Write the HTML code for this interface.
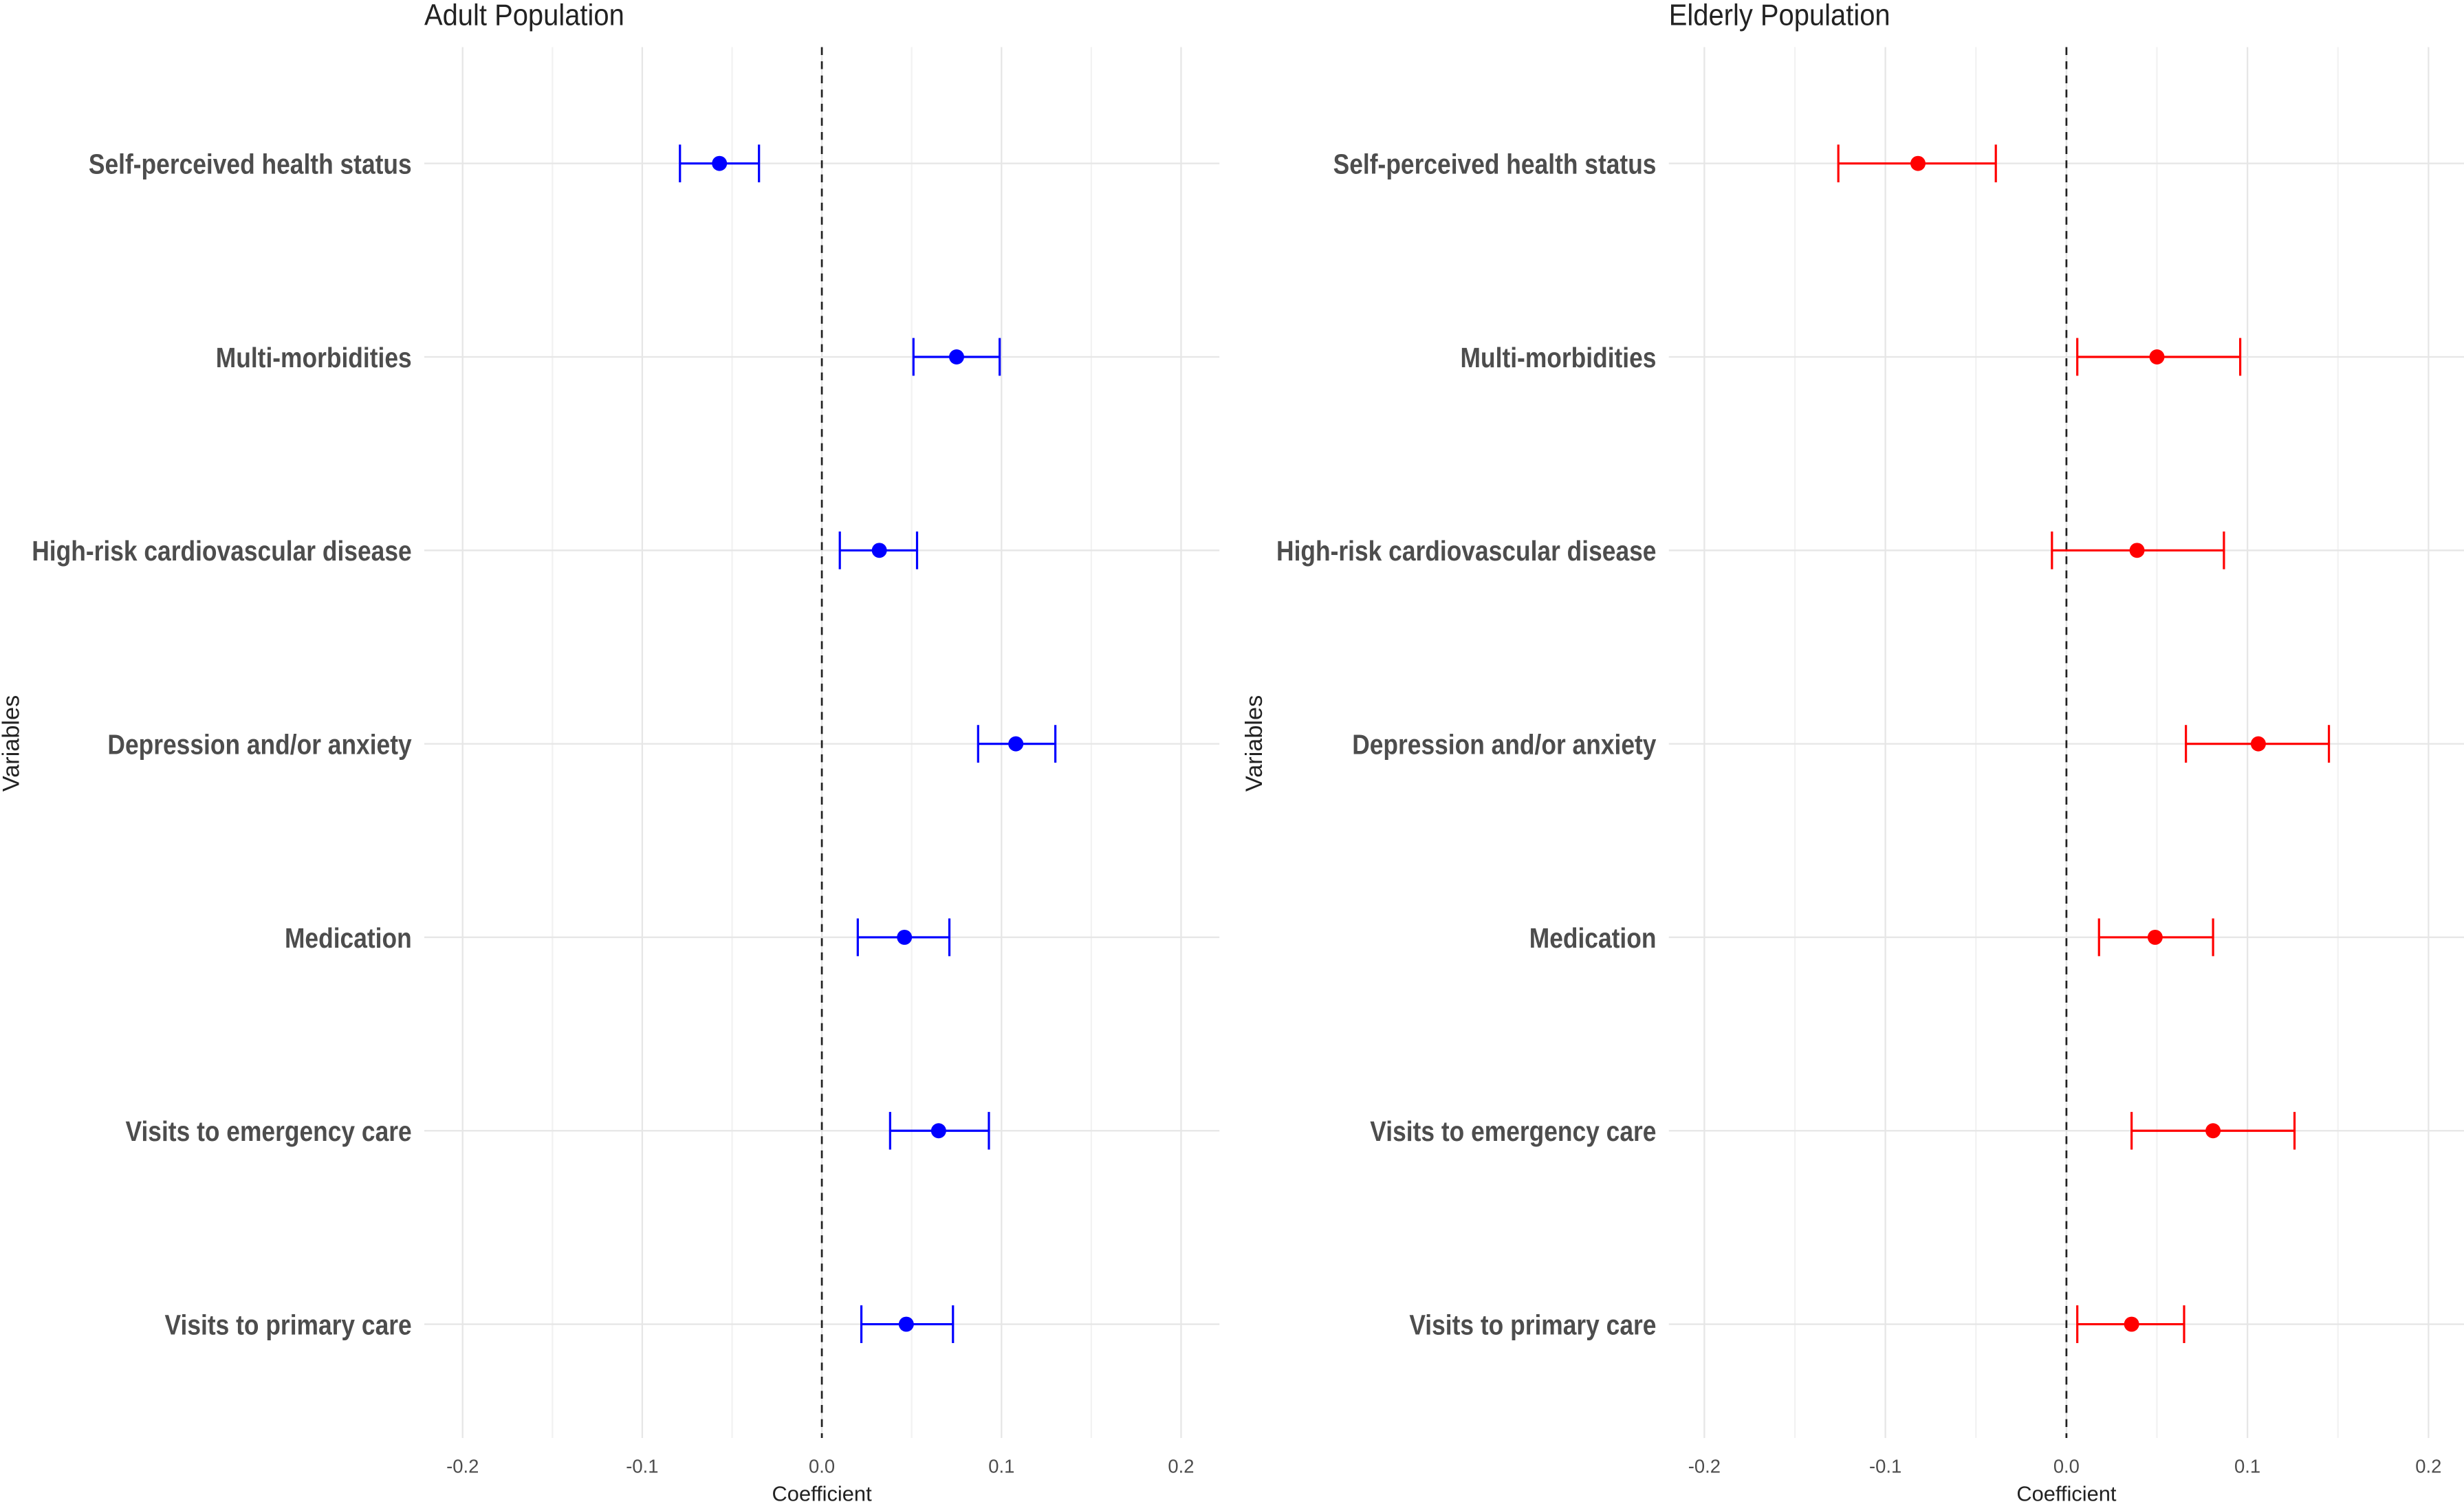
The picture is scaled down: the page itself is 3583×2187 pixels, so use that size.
<!DOCTYPE html>
<html><head><meta charset="utf-8"><style>
html,body{margin:0;padding:0;background:#fff;}
svg{display:block;}
text{font-family:"Liberation Sans Narrow","Liberation Sans",sans-serif;}
</style></head><body>
<svg id="chart" width="3583" height="2187" viewBox="0 0 1568 957" preserveAspectRatio="none" xmlns="http://www.w3.org/2000/svg"></svg>
<script>
const categories = ["Self-perceived health status","Multi-morbidities","High-risk cardiovascular disease","Depression and/or anxiety","Medication","Visits to emergency care","Visits to primary care"];
const adultEst = [-0.057,0.075,0.032,0.108,0.046,0.065,0.047];
const adultLow = [-0.079,0.051,0.010,0.087,0.020,0.038,0.022];
const adultHigh = [-0.035,0.099,0.053,0.130,0.071,0.093,0.073];
const elderEst = [-0.082,0.050,0.039,0.106,0.049,0.081,0.036];
const elderLow = [-0.126,0.006,-0.008,0.066,0.018,0.036,0.006];
const elderHigh = [-0.039,0.096,0.087,0.145,0.081,0.126,0.065];
const tickVals = [-0.2,-0.1,0.0,0.1,0.2];
const tickLabels = ["-0.2","-0.1","0.0","0.1","0.2"];
const minorVals = [-0.15,-0.05,0.05,0.15];

const NS="http://www.w3.org/2000/svg";
const svg=document.getElementById('chart');
function mk(tag,attrs,parent){const e=document.createElementNS(NS,tag);for(const k in attrs)e.setAttribute(k,attrs[k]);(parent||svg).appendChild(e);return e;}
function yRow(i){return 104+i*123.1;}

function panel(cfg){
  const g=mk('g',{});
  
  
  const x=v=>cfg.x0+v*cfg.scale;
  minorVals.forEach(v=>{const l=mk('line',{x1:x(v),x2:x(v),y1:30,y2:915,stroke:'#f2f2f2','stroke-width':1},g);
    });
  tickVals.forEach(v=>{const l=mk('line',{x1:x(v),x2:x(v),y1:30,y2:915,stroke:'#e6e6e6','stroke-width':1},g);
    });
  categories.forEach((c,i)=>{const l=mk('line',{x1:cfg.left,x2:cfg.right,y1:yRow(i),y2:yRow(i),stroke:'#e6e6e6','stroke-width':1},g);
    });
  const z=mk('line',{x1:x(0),x2:x(0),y1:30,y2:915,stroke:'#222','stroke-width':1.2,'stroke-dasharray':'5,4'},g);
  
  tickVals.forEach((v,i)=>{const t=mk('text',{x:x(v),y:937,'font-size':12,fill:'#4d4d4d','text-anchor':'middle'},g);t.textContent=tickLabels[i];
    });
  categories.forEach((c,i)=>{const t=mk('text',{x:0,y:0,'font-size':18,'font-weight':'bold',fill:'#4d4d4d','text-anchor':'end',transform:`translate(${cfg.left-8},${yRow(i)+6.5}) scale(0.86,1)`},g);t.textContent=c;
    });
  categories.forEach((c,i)=>{const y=yRow(i);
    const eb=mk('path',{d:`M${x(cfg.low[i])},${y}H${x(cfg.high[i])}M${x(cfg.low[i])},${y-12}V${y+12}M${x(cfg.high[i])},${y-12}V${y+12}`,stroke:cfg.color,'stroke-width':1.4,fill:'none'},g);
    
    const p=mk('circle',{cx:x(cfg.est[i]),cy:y,r:4.8,fill:cfg.color},g);
    
  });
  const tt=mk('text',{x:0,y:0,'font-size':19,fill:'#222',transform:`translate(${cfg.left},16) scale(0.92,1)`},g);tt.textContent=cfg.title;
  
  const xt=mk('text',{x:x(0),y:955,'font-size':13.5,fill:'#222','text-anchor':'middle'},g);xt.textContent='Coefficient';
  
  const yt=mk('text',{x:0,y:0,'font-size':15,fill:'#222','text-anchor':'middle',transform:`translate(${cfg.ytx},473) rotate(-90)`},g);yt.textContent='Variables';
  
}
panel({name:'adult-population-panel',title:'Adult Population',x0:523,scale:1143,left:270,right:776,est:adultEst,low:adultLow,high:adultHigh,color:'#0000ff',ytx:12});
panel({name:'elderly-population-panel',title:'Elderly Population',x0:1315,scale:1152,left:1062,right:1568,est:elderEst,low:elderLow,high:elderHigh,color:'#ff0000',ytx:803});
</script>
</body></html>
